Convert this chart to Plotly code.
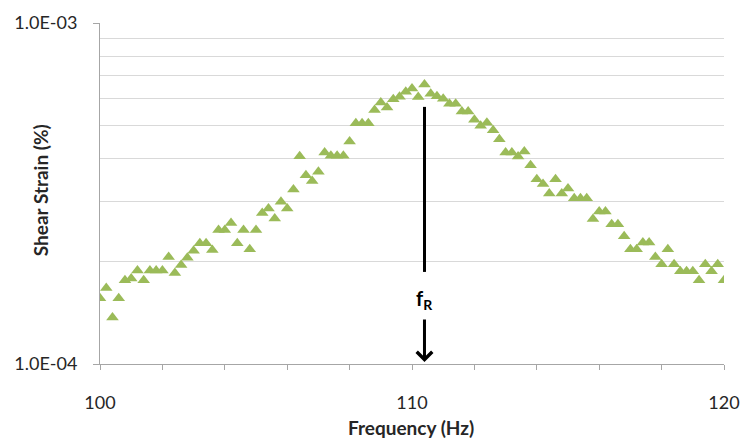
import numpy as np
import plotly.graph_objects as go

# Frequency (Hz), 0.2 Hz steps from 100 to 120
frequency = [round(100 + 0.2 * i, 1) for i in range(101)]

# Shear strain (%), in units of 1e-4
strain_e4 = [
    1.56, 1.67, 1.37, 1.56, 1.76, 1.78, 1.88, 1.76, 1.88, 1.88,
    1.88, 2.06, 1.85, 1.95, 2.05, 2.15, 2.26, 2.26, 2.16, 2.47,
    2.47, 2.59, 2.26, 2.47, 2.17, 2.47, 2.77, 2.86, 2.67, 2.99,
    2.86, 3.25, 4.07, 3.58, 3.44, 3.66, 4.17, 4.08, 4.08, 4.08,
    4.49, 5.08, 5.08, 5.08, 5.56, 5.85, 5.65, 5.98, 6.08, 6.29,
    6.43, 6.07, 6.60, 6.20, 6.10, 6.00, 5.80,
    5.80, 5.50, 5.50, 5.20, 5.00, 5.10, 4.85, 4.56, 4.17, 4.17,
    4.06, 4.20, 3.83, 3.48, 3.37, 3.16, 3.48, 3.16, 3.27, 3.06,
    3.06, 3.06, 2.66, 2.80, 2.80, 2.57, 2.57, 2.37, 2.17, 2.17,
    2.27, 2.27, 2.06, 1.96, 2.17, 1.96, 1.87, 1.87, 1.87, 1.76,
    1.96, 1.87, 1.96, 1.76,
]
strain = [v * 1e-4 for v in strain_e4]

x_tickvals = list(range(100, 121, 2))
x_ticktext = [str(v) if v % 10 == 0 else "" for v in x_tickvals]
y_tickvals = [1e-4, 1e-3]
y_ticktext = ["1.0E-04", "1.0E-03"]
y_minor = [k * 1e-4 for k in range(2, 10)]

f_res = frequency[int(np.argmax(strain))]

FONT = "Lato, 'Open Sans', sans-serif"
GRID = "#D9D9D9"
AXIS = "#A6A6A6"
TXT = "#262626"

fig = go.Figure()
fig.add_trace(go.Scatter(
    x=frequency, y=strain, mode="markers",
    marker=dict(symbol="triangle-up", size=11, color="#9BBB59",
                line=dict(width=0)),
    showlegend=False,
))

fig.update_layout(
    width=742, height=440,
    margin=dict(l=100, r=18, t=23, b=76),
    paper_bgcolor="white", plot_bgcolor="white",
    font=dict(family=FONT, size=18, color=TXT),
    xaxis=dict(
        range=[100, 120], tickvals=x_tickvals, ticktext=x_ticktext,
        ticks="outside", ticklen=5, tickcolor=AXIS,
        showline=True, linecolor=AXIS, linewidth=1,
        showgrid=False, zeroline=False,
        tickfont=dict(size=18), ticklabelstandoff=17,
        ticklabeloverflow="allow", automargin=False,
    ),
    yaxis=dict(
        type="log", range=[-4, -3],
        tickvals=y_tickvals, ticktext=y_ticktext,
        ticks="outside", ticklen=6, tickcolor=AXIS,
        showline=True, linecolor=AXIS, linewidth=1,
        showgrid=True, gridcolor=GRID, gridwidth=1,
        zeroline=False,
        tickfont=dict(size=18), ticklabelstandoff=12,
        minor=dict(tickvals=y_minor, showgrid=True, gridcolor=GRID,
                   gridwidth=1, ticks=""),
        automargin=False,
    ),
)

# axis titles
fig.add_annotation(x=0.4976, y=-0.185, xref="paper", yref="paper",
                   xanchor="center", yanchor="middle",
                   text="<b>Frequency (Hz)</b>", showarrow=False,
                   font=dict(size=19, color=TXT, family=FONT))
fig.add_annotation(x=-0.096, y=0.51, xref="paper", yref="paper",
                   xanchor="center", yanchor="middle",
                   text="<b>Shear Strain (%)</b>", showarrow=False,
                   textangle=-90,
                   font=dict(size=19, color=TXT, family=FONT))

# resonance marker line
fig.add_shape(type="line", xref="x", yref="paper",
              x0=f_res, x1=f_res, y0=0.27, y1=0.754,
              line=dict(color="black", width=3))
fig.add_annotation(x=f_res, y=0.19, xref="x", yref="paper",
                   xanchor="center", yanchor="middle",
                   text="<b>f<sub>R</sub></b>", showarrow=False,
                   font=dict(size=20, color="black", family=FONT))
fig.add_annotation(x=f_res, y=0.006, xref="x", yref="paper",
                   ax=0, ay=-44, axref="pixel", ayref="pixel",
                   text="", showarrow=True, arrowhead=4, arrowsize=1,
                   arrowwidth=3, arrowcolor="black")

fig.write_html("out.html",
               config={"displayModeBar": False},
               post_script="document.body.style.margin='0';"
                           "document.body.style.overflow='hidden';")
